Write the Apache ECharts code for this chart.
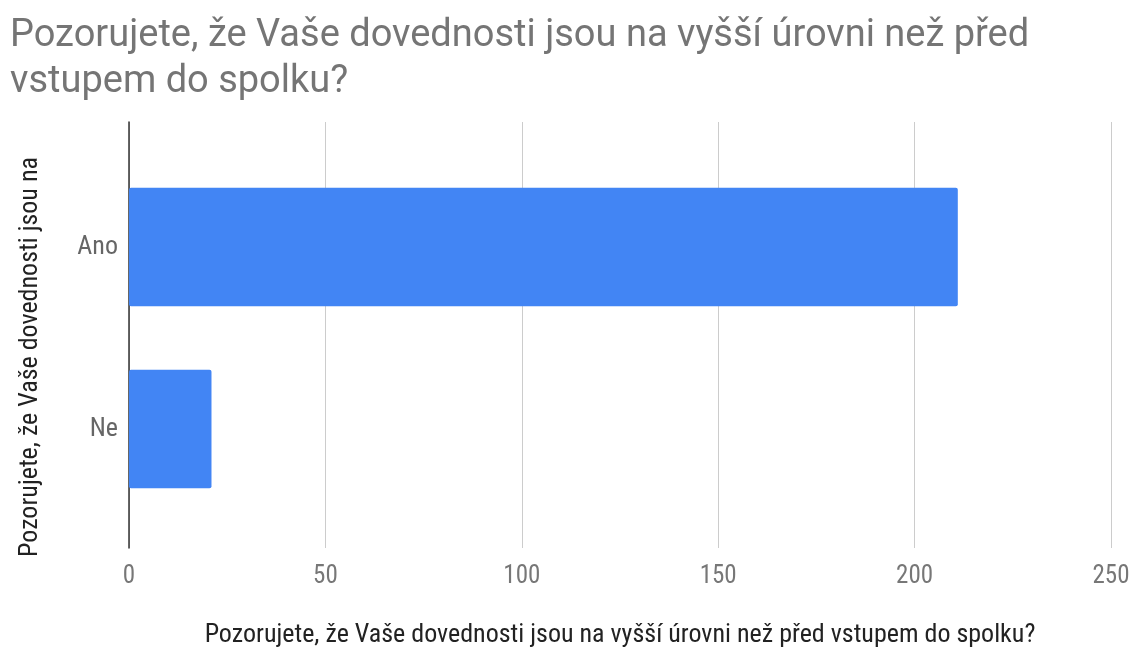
<!DOCTYPE html>
<html>
<head>
<meta charset="utf-8">
<script src="https://cdn.jsdelivr.net/npm/echarts@6/dist/echarts.min.js"></script>
<style>
html,body{margin:0;padding:0;background:#fff;}
#chart{width:1140px;height:656px;}
</style>
</head>
<body>
<div id="chart"></div>
<script>
const titleText = 'Pozorujete, že Vaše dovednosti jsou na vyšší úrovni než před\nvstupem do spolku?';
const categories = ['Ano', 'Ne'];
const values = [211, 21];
const xTicks = { min: 0, max: 250, interval: 50 };
const xAxisName = 'Pozorujete, že Vaše dovednosti jsou na vyšší úrovni než před vstupem do spolku?';
const yAxisName = 'Pozorujete, že Vaše dovednosti jsou na';

const FONT = 'Roboto Condensed, Roboto, sans-serif';
const chart = echarts.init(document.getElementById('chart'));
chart.setOption({
  backgroundColor: '#fff',
  animation: false,
  title: {
    text: titleText,
    left: 5, top: 8,
    textStyle: { fontFamily: 'Roboto, sans-serif', fontSize: 38, fontWeight: 'normal', color: '#757575', lineHeight: 46 }
  },
  grid: [
    { left: 129, right: 29, top: 122, bottom: 108 },
    { left: 129, right: 29, top: 156, bottom: 136 }
  ],
  xAxis: [
    {
      gridIndex: 0, type: 'value', min: xTicks.min, max: xTicks.max, interval: xTicks.interval,
      axisLine: { show: false }, axisTick: { show: false },
      splitLine: { lineStyle: { color: '#cccccc', width: 1 } },
      axisLabel: { margin: 16, fontFamily: FONT, fontSize: 25, color: '#777777' },
      name: xAxisName, nameLocation: 'middle', nameGap: 74,
      nameTextStyle: { fontFamily: FONT, fontSize: 26, color: '#222222' }
    },
    {
      gridIndex: 1, type: 'value', min: xTicks.min, max: xTicks.max, interval: xTicks.interval,
      show: false
    }
  ],
  yAxis: [
    {
      gridIndex: 0, type: 'category', data: categories, inverse: true,
      axisLine: { show: true, lineStyle: { color: '#333333', width: 1.5 } },
      axisTick: { show: false }, axisLabel: { show: false }, splitLine: { show: false },
      name: yAxisName, nameLocation: 'middle', nameGap: 86,
      nameTextStyle: { fontFamily: FONT, fontSize: 26, color: '#222222', padding: [0, 44, 0, 0] }
    },
    {
      gridIndex: 1, type: 'category', data: categories, inverse: true,
      axisLine: { show: false }, axisTick: { show: false },
      axisLabel: { margin: 11, fontFamily: FONT, fontSize: 26, color: '#666666' }
    }
  ],
  series: [
    {
      type: 'bar', xAxisIndex: 1, yAxisIndex: 1, data: values,
      barCategoryGap: '35%',
      itemStyle: { color: '#4285f4', borderRadius: 2 }
    }
  ]
});
</script>
</body>
</html>
